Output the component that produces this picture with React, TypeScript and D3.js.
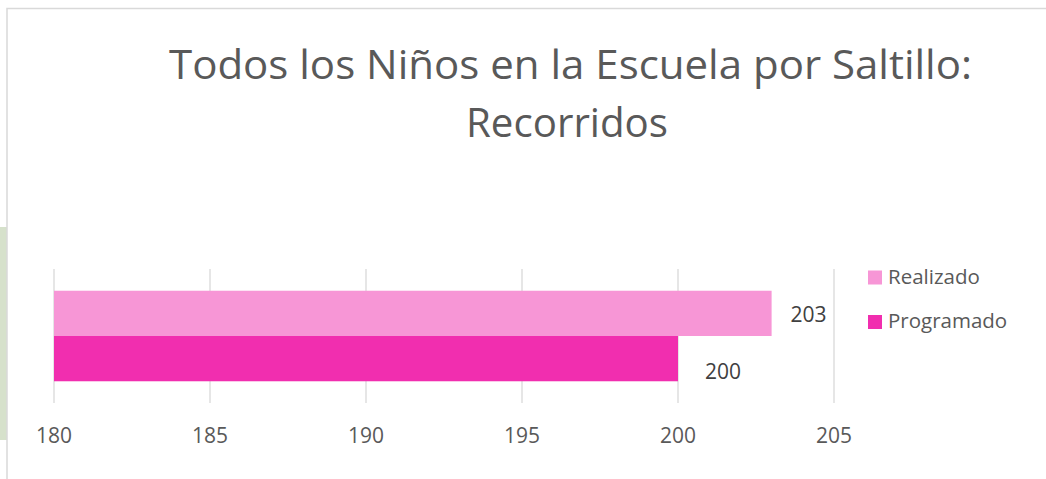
import React from "react";
import * as d3 from "d3";

const categories = ["Recorridos"];
const seriesNames = ["Realizado", "Programado"];
const realizado = [203];
const programado = [200];
const tickValues = [180, 185, 190, 195, 200, 205];
const titleLines = ["Todos los Niños en la Escuela por Saltillo:", "Recorridos"];

const W = 1046;
const H = 479;
const FONT = "'Open Sans', 'Noto Sans', sans-serif";
const TEXT = "#595959";
const COLORS: Record<string, string> = { Realizado: "#F796D6", Programado: "#F12EAF" };
const LABEL_DX: Record<string, number> = { Realizado: 37, Programado: 45 };
const LABEL_DY: Record<string, number> = { Realizado: 8.5, Programado: 20 };

export default function App() {
  const x = d3.scaleLinear().domain([180, 205]).range([54, 834]);
  const plotTop = 269;
  const plotBottom = 403;
  const y0 = d3
    .scaleBand<string>()
    .domain(categories)
    .range([plotTop, plotBottom])
    .paddingInner(0)
    .paddingOuter(0.24);
  const y1 = d3.scaleBand<string>().domain(seriesNames).range([0, y0.bandwidth()]).padding(0);

  const valuesBySeries: Record<string, number[]> = { Realizado: realizado, Programado: programado };

  return (
    <svg
      width={W}
      height={H}
      style={{ position: "absolute", left: 0, top: 0, background: "#fff" }}
      fontFamily={FONT}
    >
      {/* slide decoration on left */}
      <rect x={0} y={227} width={7} height={213} fill="#D6E1CB" />
      {/* chart frame */}
      <rect x={7} y={8.5} width={W + 20} height={H + 20} fill="#fff" stroke="#D9D9D9" strokeWidth={1.5} />

      {/* title */}
      <text x={570.5} y={79} textAnchor="middle" fontSize={41} fill={TEXT} textLength={803} lengthAdjust="spacingAndGlyphs">
        {titleLines[0]}
      </text>
      <text x={567} y={137} textAnchor="middle" fontSize={41} fill={TEXT} textLength={202} lengthAdjust="spacingAndGlyphs">
        {titleLines[1]}
      </text>

      {/* gridlines */}
      {tickValues.map((t) => (
        <line key={t} x1={x(t)} x2={x(t)} y1={plotTop} y2={plotBottom} stroke="#D9D9D9" strokeWidth={1.3} />
      ))}

      {/* bars */}
      {categories.map((c, ci) => (
        <g key={c} transform={`translate(0,${y0(c)})`}>
          {seriesNames.map((s) => {
            const v = valuesBySeries[s][ci];
            const yy = y1(s)!;
            return (
              <g key={s}>
                <rect x={x(180)} y={yy} width={x(v) - x(180)} height={y1.bandwidth()} fill={COLORS[s]} />
                <text
                  x={x(v) + LABEL_DX[s]}
                  y={yy + y1.bandwidth() / 2 + LABEL_DY[s]}
                  textAnchor="middle"
                  fontSize={21}
                  fill="#404040"
                >
                  {v}
                </text>
              </g>
            );
          })}
        </g>
      ))}

      {/* tick labels */}
      {tickValues.map((t) => (
        <text key={t} x={x(t)} y={442.5} textAnchor="middle" fontSize={21} fill={TEXT}>
          {t}
        </text>
      ))}

      {/* legend */}
      {seriesNames.map((s, i) => (
        <g key={s} transform={`translate(868,${270.5 + i * 44.5})`}>
          <rect x={0} y={0} width={14} height={14} fill={COLORS[s]} />
          <text x={20} y={13} fontSize={20.5} fill={TEXT}>
            {s}
          </text>
        </g>
      ))}
    </svg>
  );
}
